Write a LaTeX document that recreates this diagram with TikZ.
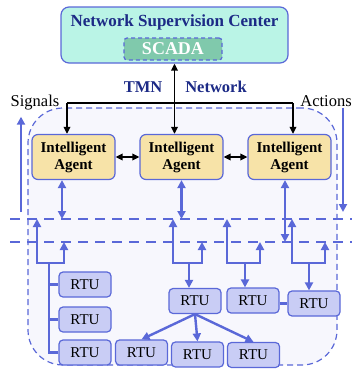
\documentclass[tikz,border=0pt]{standalone}
\usepackage{fontspec}
\setmainfont{Liberation Serif}
\usepackage{tikz}
\usetikzlibrary{positioning, arrows.meta}

\definecolor{lineblue}{HTML}{5A68D8}
\definecolor{navy}{HTML}{1C2A86}
\definecolor{aqua}{HTML}{BAF4E6}
\definecolor{scadagreen}{HTML}{80C9AC}
\definecolor{agentgold}{HTML}{F7E3A8}
\definecolor{rtufill}{HTML}{C9CDF5}
\definecolor{zonefill}{HTML}{F7F7FD}

\tikzset{
  center/.style = {draw=lineblue, fill=aqua, line width=1.2pt, rounded corners=8pt,
    minimum width=227pt, minimum height=56pt},
  scadabox/.style = {draw=lineblue, fill=scadagreen, line width=1.2pt, rounded corners=3pt,
    dash pattern=on 4pt off 3pt, minimum width=98pt, minimum height=22pt, inner sep=0pt,
    text=white, font=\fontsize{18}{18}\selectfont\bfseries},
  agent/.style = {draw=lineblue, fill=agentgold, line width=1.2pt, rounded corners=6pt,
    minimum width=83pt, minimum height=45pt, align=center,
    font=\fontsize{15}{17}\selectfont\bfseries},
  rtu/.style = {draw=lineblue, fill=rtufill, line width=1.2pt, rounded corners=4pt,
    minimum width=52pt, minimum height=25pt, inner sep=0pt, font=\fontsize{15}{15}\selectfont},
  zone/.style = {draw=lineblue, fill=zonefill, line width=1.2pt, rounded corners=35pt,
    dash pattern=on 6pt off 4pt, minimum width=309pt, minimum height=257pt},
  blk/.style = {draw=black, line width=1.8pt},
  bl/.style = {draw=lineblue, line width=2.4pt},
  bus/.style = {draw=lineblue, line width=2.4pt, dash pattern=on 10pt off 7pt},
  tip/.tip = {Triangle[length=8pt, width=8pt]},
  ktip/.tip = {Triangle[length=7pt, width=6.5pt]},
  lbl/.style = {font=\fontsize{16.5}{17}\selectfont, inner sep=1pt},
}

\begin{document}
\begin{tikzpicture}[x=1pt, y=-1pt, node distance=108pt, on grid]
  \useasboundingbox (0,0) rectangle (352,372);

  \node (zone) [zone] at (182.5,236.5) {};

  \node (nsc) [center] at (174.5,35) {};
  \node (title) [text=navy, font=\fontsize{17}{17}\selectfont\bfseries] at (174.5,22) {Network Supervision Center};
  \node (scada) [scadabox] at (173,49) {SCADA};

  \node (tmn) [text=navy, font=\fontsize{16.5}{17}\selectfont\bfseries] at (143,87) {TMN};
  \node (net) [text=navy, font=\fontsize{16.5}{17}\selectfont\bfseries] at (216,87) {Network};
  \node (sig) [lbl] at (35,103) {Signals};
  \node (act) [lbl] at (326,101) {Actions};

  \node (ia1) [agent] at (73.5,157) {Intelligent\\Agent};
  \node (ia2) [agent, right = of ia1] {Intelligent\\Agent};
  \node (ia3) [agent, right = of ia2] {Intelligent\\Agent};

  \node (r1) [rtu] at (85,284.5) {RTU}; \node (r2) [rtu, below = 35pt of r1] {RTU};
  \node (r3) [rtu, below = 33pt of r2] {RTU};
  \node (r4) [rtu] at (195,301) {RTU}; \node (r5) [rtu] at (253,300.5) {RTU};
  \node (r6) [rtu] at (314,303.5) {RTU};
  \node (r7) [rtu] at (141.5,352.5) {RTU}; \node (r8) [rtu] at (197.5,354.5) {RTU};
  \node (r9) [rtu] at (253.5,355) {RTU};

  \coordinate (b1w) at (10,219); \coordinate (b1e) at (352,219);
  \coordinate (b2w) at (10,242); \coordinate (b2e) at (352,242);
  \draw[bus] (b1w) -- (b1e); \draw[bus] (b2w) -- (b2e);

  \coordinate (jl) at (67,103); \coordinate (jr) at (293,103);
  \draw[blk, ktip-ktip] (nsc.south) -- (nsc.south |- ia2.north);
  \draw[blk] (jl) -- (jr);
  \draw[blk, -ktip] (jl) -- (jl |- ia1.north);
  \draw[blk, -ktip] (jr) -- (jr |- ia3.north);
  \draw[blk, ktip-ktip] (ia1) -- (ia2);
  \draw[blk, ktip-ktip] (ia2) -- (ia3);

  \coordinate (s0) at (21,212); \coordinate (a0) at (343,212);
  \draw[bl, -tip] (s0) -- ([yshift=-5pt]s0 |- sig.south);
  \draw[bl, -tip] (a0 |- act.south) -- (a0);

  \draw[bl, tip-tip] ([xshift=-11.5pt]ia1.south) -- ([xshift=-11.5pt]ia1.south |- b1w);
  \draw[bl, tip-tip] (ia2.south) -- (ia2.south |- b1w);
  \draw[bl, tip-tip] ([xshift=-4.5pt]ia3.south) -- ([xshift=-4.5pt]ia3.south |- b2w);

  \coordinate (fA) at (49,263);
  \draw[bl, tip-tip] (37,219) -- (37,263) -- (64,263) -- (64,242);
  \draw[bl] (fA) |- (r3.west);
  \draw[bl] (fA |- r1.west) -- (r1.west);
  \draw[bl] (fA |- r2.west) -- (r2.west);

  \foreach \l/\r/\m/\n in {173/202/189/r4, 227/260/245/r5, 292/325/309/r6} {
    \coordinate (fm) at (\m,263);
    \draw[bl, tip-tip] (\l,219) -- (\l,263) -- (\r,263) -- (\r,242);
    \draw[bl, -tip] (fm) -- (fm |- \n.north);
  }

  \draw[bl] (r6.west -| r5.east) -- (r6.west);
  \foreach \t in {r7, r8, r9}
    \draw[bl, -tip] (r4.south) -- (\t.north);

\end{tikzpicture}
\end{document}
